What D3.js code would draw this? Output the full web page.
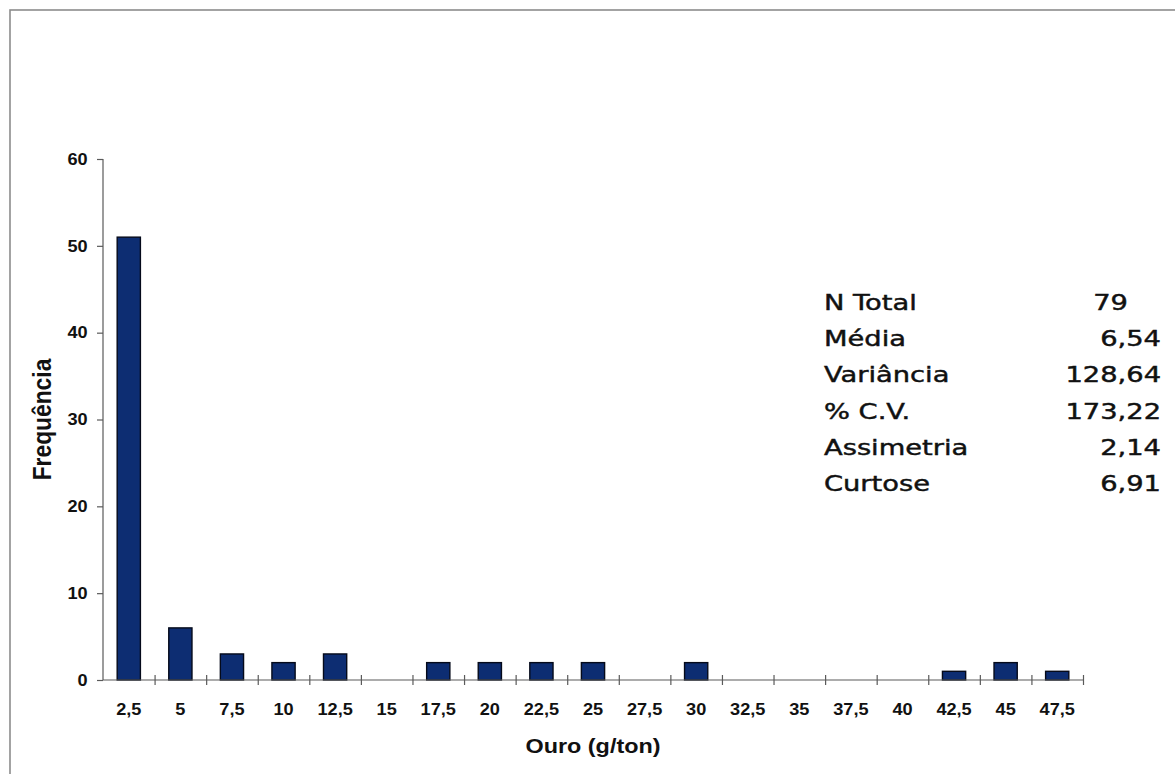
<!DOCTYPE html>
<html>
<head>
<meta charset="utf-8">
<script src="https://cdn.jsdelivr.net/npm/d3@7"></script>
<style>
  html, body { margin: 0; padding: 0; background: #fff; }
  svg { display: block; }
</style>
</head>
<body>
<svg id="chart" width="1175" height="774"></svg>
<script>
const categories = ["2,5","5","7,5","10","12,5","15","17,5","20","22,5","25","27,5","30","32,5","35","37,5","40","42,5","45","47,5"];
const frequencies = [51,6,3,2,3,0,2,2,2,2,0,2,0,0,0,0,1,2,1];
const yTicks = [0,10,20,30,40,50,60];
const statLabels = ["N Total","Média","Variância","% C.V.","Assimetria","Curtose"];
const statValues = ["79","6,54","128,64","173,22","2,14","6,91"];
const xTitle = "Ouro (g/ton)";
const yTitle = "Frequência";

(function () {
const svg = d3.select("#chart");
const pL = 103, pR = 1083, pT = 159, pB = 680;
const axisColor = "#5a5a5a";
const sx = 1.1;

// frame
svg.append("rect").attr("x", 10).attr("y", 10).attr("width", 1300).attr("height", 900)
  .attr("fill", "none").attr("stroke", "#8c8c8c").attr("stroke-width", 1.6);

const x = d3.scaleBand().domain(categories).range([pL, pR]).paddingInner(0.55).paddingOuter(0.275);
const y = d3.scaleLinear().domain([0, 60]).range([pB, pT]);
const edge = d3.scaleLinear().domain([0, categories.length]).range([pL, pR]);

// y axis
const gy = svg.append("g").attr("transform", `translate(${pL},0)`)
  .call(d3.axisLeft(y).tickValues(yTicks).tickSize(6).tickPadding(8));
gy.selectAll("path.domain").attr("stroke", axisColor).attr("stroke-width", 1.2)
  .attr("d", `M0,${pT}V${pB}`);
gy.selectAll(".tick line").attr("stroke", axisColor).attr("stroke-width", 1.2);
gy.selectAll(".tick text")
  .attr("font-family", "Liberation Sans, Arial, sans-serif")
  .attr("font-size", 16.5).attr("fill", "#111").attr("font-weight", "bold")
  .attr("transform", `scale(${sx},1)`);

// bars
svg.append("g").selectAll("rect").data(frequencies).join("rect")
  .attr("x", (d, i) => x(categories[i]))
  .attr("width", x.bandwidth())
  .attr("y", d => y(d))
  .attr("height", d => y(0) - y(d))
  .attr("fill", "#0d2d72")
  .attr("stroke", "#050a1a").attr("stroke-width", 1.4)
  .style("display", d => d > 0 ? null : "none");

// x axis line with crossing ticks at category edges
const gxe = svg.append("g").attr("transform", `translate(0,${pB})`)
  .call(d3.axisBottom(edge).tickValues(d3.range(1, categories.length + 1)).tickFormat("").tickSize(5));
gxe.selectAll("path.domain").attr("stroke", axisColor).attr("stroke-width", 1.2)
  .attr("d", `M${pL},0H${pR}`);
gxe.selectAll(".tick line").attr("y1", -5).attr("y2", 5).attr("stroke", axisColor).attr("stroke-width", 1.2);

// x category labels
const gx = svg.append("g").attr("transform", `translate(0,${pB})`)
  .call(d3.axisBottom(x).tickSize(0).tickPadding(23));
gx.select("path.domain").remove();
gx.selectAll(".tick text")
  .attr("font-family", "Liberation Sans, Arial, sans-serif")
  .attr("font-size", 16.5).attr("fill", "#111").attr("font-weight", "bold")
  .attr("transform", `scale(${sx},1)`);

// axis titles
svg.append("text").attr("transform", `translate(${(pL + pR) / 2},753) scale(1.17,1)`)
  .attr("text-anchor", "middle")
  .attr("font-family", "Liberation Sans, Arial, sans-serif")
  .attr("font-size", 20).attr("font-weight", "bold").attr("fill", "#111")
  .text(xTitle);

svg.append("text").attr("transform", `translate(51,${(pT + pB) / 2}) rotate(-90) scale(1.14,1.28)`)
  .attr("text-anchor", "middle")
  .attr("font-family", "Liberation Sans, Arial, sans-serif")
  .attr("font-size", 20).attr("font-weight", "bold").attr("fill", "#111")
  .text(yTitle);

// stats box
const rowY = d3.scaleLinear().domain([0, statLabels.length - 1]).range([310, 491]);
const sg = svg.append("g");
sg.selectAll("text.lab").data(statLabels).join("text").attr("class", "lab")
  .attr("transform", (d, i) => `translate(824,${rowY(i)}) scale(1.27,1)`)
  .attr("font-family", "DejaVu Sans, sans-serif").attr("font-size", 21.5).attr("fill", "#111")
  .attr("stroke", "#111").attr("stroke-width", 0.45)
  .text(d => d);
sg.selectAll("text.val").data(statValues).join("text").attr("class", "val")
  .attr("transform", (d, i) => `translate(${d.includes(",") ? 1161 : 1128},${rowY(i)}) scale(1.27,1)`)
  .attr("text-anchor", "end")
  .attr("font-family", "DejaVu Sans, sans-serif").attr("font-size", 21.5).attr("fill", "#111")
  .attr("stroke", "#111").attr("stroke-width", 0.45)
  .text(d => d);
})();
</script>
</body>
</html>
